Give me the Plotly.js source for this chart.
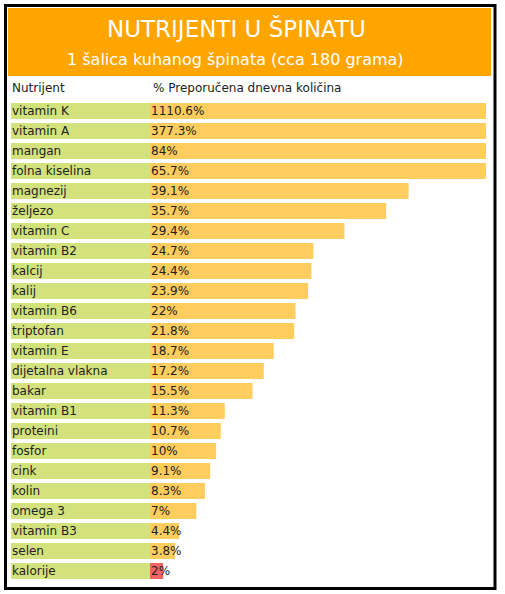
<!DOCTYPE html>
<html>
<head>
<meta charset="utf-8">
<script src="https://cdn.plot.ly/plotly-3.0.1.min.js"></script>
<style>html,body{margin:0;padding:0;background:#fff;}#chart{width:505px;height:594px;}</style>
</head>
<body>
<div id="chart"></div>
<script>
const nutrients = ['vitamin K','vitamin A','mangan','folna kiselina','magnezij','željezo','vitamin C','vitamin B2','kalcij','kalij','vitamin B6','triptofan','vitamin E','dijetalna vlakna','bakar','vitamin B1','proteini','fosfor','cink','kolin','omega 3','vitamin B3','selen','kalorije'];
const dailyValue = [1110.6,377.3,84,65.7,39.1,35.7,29.4,24.7,24.4,23.9,22,21.8,18.7,17.2,15.5,11.3,10.7,10,9.1,8.3,7,4.4,3.8,2];
const titleText = 'NUTRIJENTI U ŠPINATU';
const subtitleText = '1 šalica kuhanog špinata (cca 180 grama)';
const headerLabel = 'Nutrijent';
const headerValue = '% Preporučena dnevna količina';

const W = 505, H = 594;
const px = v => v / W;
const py = v => 1 - v / H;
const FONT = 'DejaVu Sans, Verdana, sans-serif';
const ORANGE = '#FFCC5E', RED = '#F76464', GREEN = '#D4E27E';

const barColors = nutrients.map(n => n === 'kalorije' ? RED : ORANGE);

const trace = {
  type: 'bar',
  orientation: 'h',
  y: nutrients,
  x: dailyValue,
  width: 0.8,
  marker: {color: barColors, line: {width: 0}},
  hoverinfo: 'none',
  cliponaxis: true
};

const shapes = [
  {type:'rect', xref:'paper', yref:'paper', x0:px(5.5), x1:px(495), y0:py(5.5), y1:py(588.5), line:{color:'#000', width:3}, fillcolor:'rgba(0,0,0,0)', layer:'above'},
  {type:'rect', xref:'paper', yref:'paper', x0:px(8), x1:px(491), y0:py(8), y1:py(76), line:{width:0}, fillcolor:'#FFA500', layer:'below'}
];
nutrients.forEach((n, i) => {
  shapes.push({type:'rect', xref:'paper', yref:'y', x0:px(11), x1:px(150), y0:i-0.4, y1:i+0.4, line:{width:0}, fillcolor:GREEN, layer:'below'});
});

const annotations = [
  {xref:'paper', yref:'paper', x:px(236), y:py(28), text:titleText, showarrow:false, xanchor:'center', yanchor:'middle', font:{family:FONT, size:23, color:'#fff'}},
  {xref:'paper', yref:'paper', x:px(235), y:py(59), text:subtitleText, showarrow:false, xanchor:'center', yanchor:'middle', font:{family:FONT, size:16, color:'#fff'}},
  {xref:'paper', yref:'paper', x:px(10), y:py(88), text:headerLabel, showarrow:false, xanchor:'left', yanchor:'middle', font:{family:FONT, size:12, color:'#222'}},
  {xref:'paper', yref:'paper', x:px(151), y:py(88), text:headerValue, showarrow:false, xanchor:'left', yanchor:'middle', font:{family:FONT, size:12, color:'#222'}}
];
nutrients.forEach((n, i) => {
  annotations.push({xref:'paper', yref:'y', x:px(10), y:n, text:n, showarrow:false, xanchor:'left', yanchor:'middle', font:{family:FONT, size:12, color:'#222'}});
  annotations.push({xref:'x', yref:'y', x:0, y:n, xshift:-1, text:dailyValue[i] + '%', showarrow:false, xanchor:'left', yanchor:'middle', font:{family:FONT, size:12, color:'#222'}});
});

const layout = {
  width: W, height: H,
  margin: {l:0, r:0, t:0, b:0},
  paper_bgcolor: '#fff', plot_bgcolor: 'rgba(0,0,0,0)',
  showlegend: false,
  bargap: 0.2,
  xaxis: {domain:[px(150), px(486)], range:[0, 50.8], showgrid:false, zeroline:false, showticklabels:false, ticks:'', fixedrange:true},
  yaxis: {domain:[py(581), py(101)], range:[23.5, -0.5], type:'category', showgrid:false, zeroline:false, showticklabels:false, ticks:'', fixedrange:true},
  shapes: shapes,
  annotations: annotations
};

Plotly.newPlot('chart', [trace], layout, {displayModeBar:false, staticPlot:true});
</script>
</body>
</html>
